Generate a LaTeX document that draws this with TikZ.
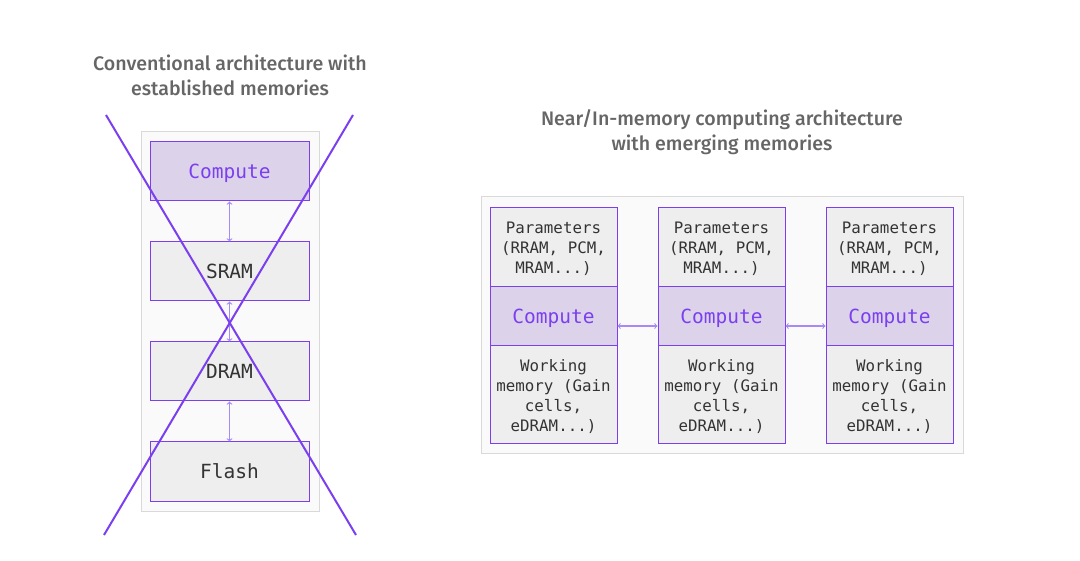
\documentclass[tikz,border=0pt]{standalone}
\usepackage{fontspec}
\setmainfont{Fira Sans}[BoldFont={Fira Sans Medium}]
\setmonofont{DejaVu Sans Mono}
\usetikzlibrary{arrows}
\definecolor{lila}{HTML}{7B3FF0}
\definecolor{hlila}{HTML}{A68AF7}
\definecolor{clila}{HTML}{DCD3EB}
\definecolor{kgrau}{HTML}{EEEEEE}
\definecolor{hgrau}{HTML}{FAFAFA}
\definecolor{rgrau}{HTML}{D9D9D9}
\definecolor{tgrau}{HTML}{666666}
\definecolor{sgrau}{HTML}{333333}
\tikzset{
  kasten/.style={draw=lila,line width=1pt,fill=kgrau,text=sgrau,inner sep=0pt,text depth=0pt,
    font=\ttfamily\fontsize{19.5}{22}\selectfont,minimum width=159pt,minimum height=59pt},
  rechen/.style={fill=clila,text=lila},
  spalte/.style={kasten,minimum width=127pt,align=center,
    font=\ttfamily\fontsize{15.8}{20}\selectfont},
  titel/.style={align=center,text=tgrau,font=\bfseries\fontsize{19.6}{25}\selectfont},
  pfeil/.style={<->,>=to,draw=hlila,line width=1.1pt},
  rahmen/.style={draw=rgrau,fill=hgrau,line width=1pt}
}
\begin{document}
\begin{tikzpicture}[x=1pt,y=-1pt]
    \useasboundingbox (0,0) rectangle (1080,561);
    \node[titel] (tl) at (230,75.5) {Conventional architecture with\\established memories};
    \node[titel] (tr) at (722,132.5) {Near/In-memory computing architecture\\with emerging memories};
  %Links
    \draw[rahmen] (141,132) rectangle (319,511);
    \node[kasten,rechen] (l1) at (229.5,171.5) {Compute};
    \foreach \n/\y/\txt in {2/271.5/SRAM,3/371.5/DRAM,4/471.5/Flash}
      \node[kasten] (l\n) at (229.5,\y) {\txt};
    \foreach \a/\b in {1/2,2/3,3/4}
      \draw[pfeil] (l\a) -- (l\b);
  %Rechts
    \draw[rahmen] (481,197) rectangle (963,454);
    \foreach \n/\x in {1/553.5,2/721.5,3/889.5}{
      \node[spalte,minimum height=79pt] (p\n) at (\x,247.5) {Parameters\\(RRAM, PCM,\\MRAM...)};
      \node[spalte,rechen,minimum height=59pt,font=\ttfamily\fontsize{19.5}{22}\selectfont] (c\n) at (\x,316.5) {Compute};
      \node[spalte,minimum height=98pt] (w\n) at (\x,395) {Working\\memory (Gain\\cells,\\eDRAM...)};
    }
    \foreach \a/\b in {1/2,2/3}
      \draw[pfeil] ([yshift=-9.5pt]c\a.east) -- ([yshift=-9.5pt]c\b.west);
  %Kreuz
    \draw[lila,line width=2pt] (106,115) -- (356,535);
    \draw[lila,line width=2pt] (353,115) -- (104,535);
\end{tikzpicture}
\end{document}
